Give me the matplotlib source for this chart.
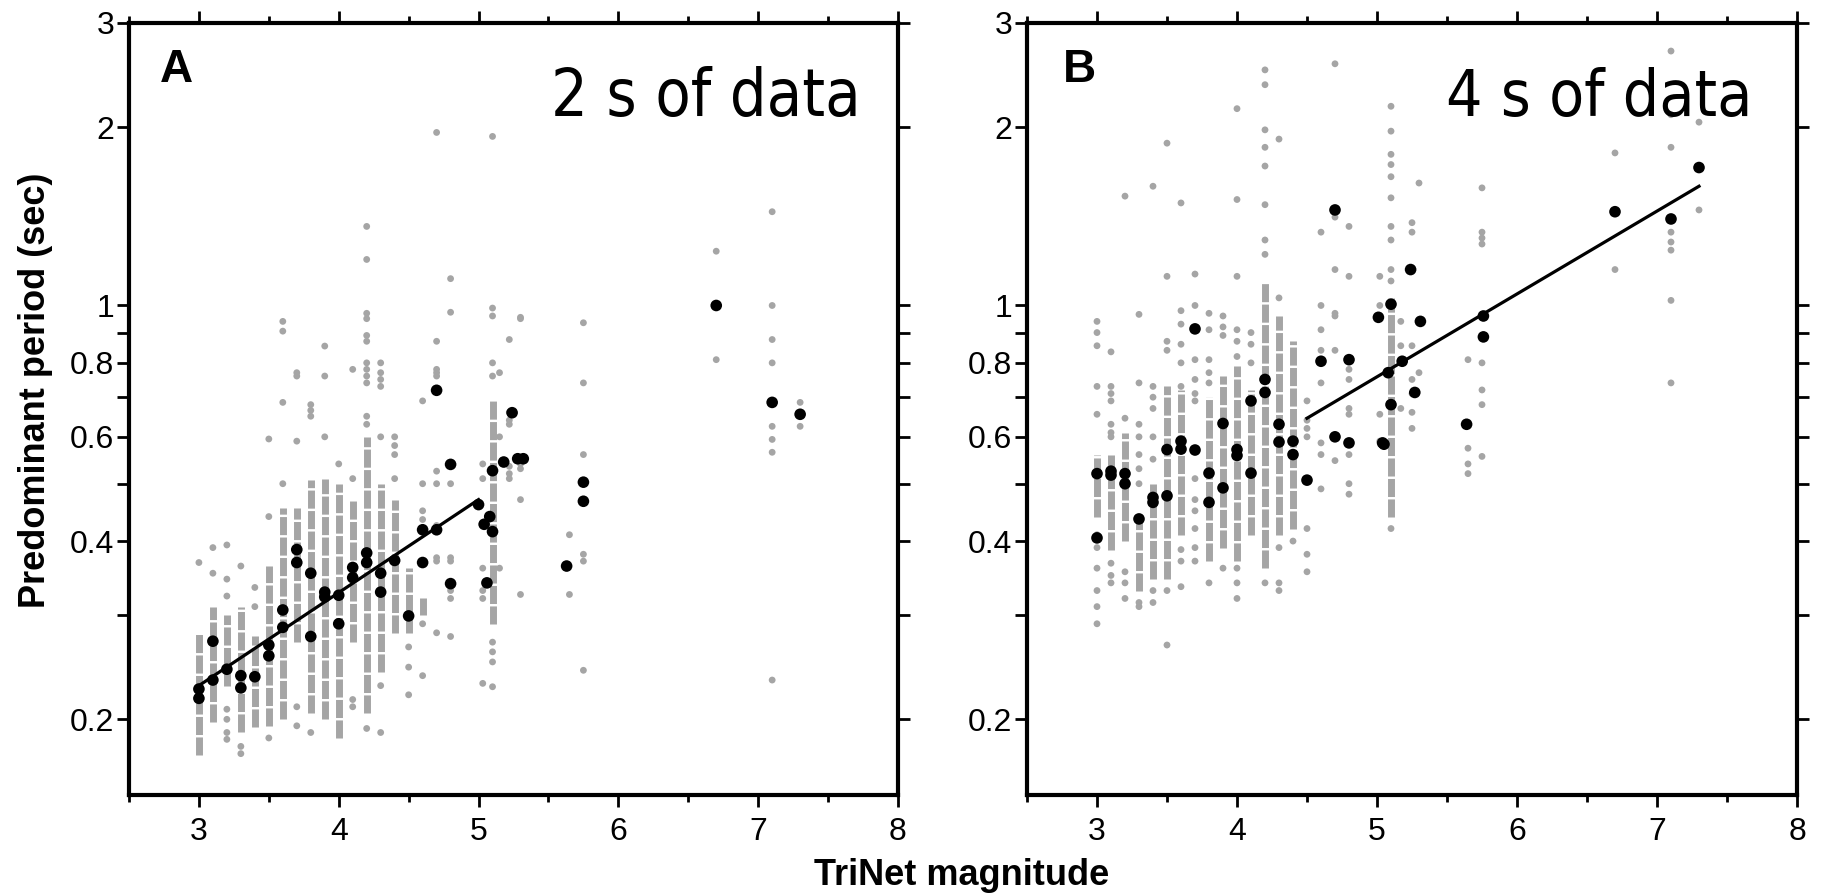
import matplotlib
matplotlib.use("Agg")
import matplotlib.pyplot as plt
from matplotlib import font_manager
from matplotlib.font_manager import FontProperties
from matplotlib.ticker import FixedLocator, NullLocator

# ---- panel A: 2 s of data ----
# gray single-station measurements, grouped by magnitude column
a_cols = [3.0, 3.1, 3.2, 3.3, 3.4, 3.5, 3.6, 3.7, 3.8, 3.9, 4.0, 4.1, 4.2, 4.3, 4.4,
          4.5, 4.6, 4.7, 4.8, 5.03, 5.1, 5.15, 5.22, 5.3, 5.65, 5.75, 6.7, 7.1, 7.3]
a_pts = [
    [0.368],
    [0.39, 0.353],
    [0.394, 0.345, 0.323, 0.208, 0.20, 0.19, 0.185],
    [0.363, 0.18, 0.175],
    [0.334, 0.31],
    [0.595, 0.44, 0.186],
    [0.94, 0.905, 0.686, 0.50],
    [0.77, 0.76, 0.59, 0.21, 0.195],
    [0.68, 0.665, 0.65, 0.19],
    [0.854, 0.76, 0.60],
    [0.54],
    [0.78, 0.51, 0.216, 0.21],
    [1.36, 1.196, 0.97, 0.95, 0.89, 0.87, 0.80, 0.78, 0.76, 0.74, 0.65, 0.63, 0.193],
    [0.80, 0.77, 0.75, 0.73, 0.60, 0.228, 0.19],
    [0.60, 0.58, 0.56, 0.51],
    [0.265, 0.245, 0.22],
    [0.69, 0.50, 0.45, 0.435, 0.42, 0.29, 0.237],
    [1.96, 0.87, 0.78, 0.77, 0.76, 0.525, 0.50, 0.425, 0.375, 0.37, 0.28],
    [1.11, 0.974, 0.50, 0.375, 0.37, 0.33, 0.32, 0.276],
    [0.54, 0.51, 0.36, 0.33, 0.32, 0.23],
    [1.93, 0.99, 0.96, 0.80, 0.76, 0.27, 0.26, 0.25, 0.227],
    [0.77, 0.60, 0.36],
    [0.876, 0.66, 0.64, 0.63, 0.535, 0.52, 0.51],
    [0.955, 0.95, 0.54, 0.53, 0.47, 0.325],
    [0.41, 0.325],
    [0.935, 0.74, 0.56, 0.38, 0.37, 0.242],
    [1.235, 0.81],
    [1.44, 1.0, 0.876, 0.80, 0.625, 0.594, 0.565, 0.233],
    [0.686, 0.625],
]
# stretches where the gray dots overlap into a near-solid bar
a_run_mag = [3.0, 3.1, 3.2, 3.3, 3.4, 3.5, 3.6, 3.7, 3.8, 3.9, 4.0, 4.1, 4.2, 4.3,
             4.4, 4.5, 4.6, 5.1]
a_run_lo = [0.174, 0.198, 0.228, 0.19, 0.194, 0.195, 0.20, 0.27, 0.205, 0.20, 0.186,
            0.27, 0.205, 0.24, 0.28, 0.28, 0.30, 0.29]
a_run_hi = [0.28, 0.31, 0.30, 0.31, 0.277, 0.363, 0.455, 0.455, 0.508, 0.51, 0.50,
            0.47, 0.60, 0.50, 0.47, 0.36, 0.32, 0.69]
# black: event averages
a_mean_mag = [3.0, 3.0, 3.1, 3.1, 3.2, 3.3, 3.3, 3.4, 3.5, 3.5,
              3.6, 3.6, 3.7, 3.7, 3.8, 3.8, 3.9, 3.9, 4.0, 4.0,
              4.1, 4.1, 4.2, 4.2, 4.3, 4.3, 4.4, 4.5, 4.6, 4.6,
              4.7, 4.7, 4.8, 4.8, 5.0, 5.04, 5.08, 5.1, 5.1, 5.06,
              5.18, 5.24, 5.28, 5.32, 5.63, 5.75, 5.75, 6.7, 7.1, 7.3]
a_mean_per = [0.217, 0.225, 0.271, 0.233, 0.243, 0.237, 0.226, 0.236, 0.267, 0.256,
              0.306, 0.286, 0.387, 0.368, 0.353, 0.276, 0.328, 0.322, 0.324, 0.290,
              0.361, 0.347, 0.382, 0.368, 0.353, 0.328, 0.371, 0.299, 0.418, 0.368,
              0.418, 0.719, 0.539, 0.339, 0.461, 0.427, 0.44, 0.415, 0.526, 0.34,
              0.544, 0.659, 0.551, 0.551, 0.363, 0.503, 0.467, 1.0, 0.686, 0.655]
a_fit_mag = [3.0, 5.0]
a_fit_per = [0.228, 0.47]

# ---- panel B: 4 s of data ----
b_cols = [3.0, 3.1, 3.2, 3.3, 3.4, 3.5, 3.6, 3.7, 3.8, 3.9, 4.0, 4.1, 4.2, 4.3, 4.4,
          4.5, 4.6, 4.7, 4.8, 5.02, 5.1, 5.17, 5.25, 5.3, 5.65, 5.75, 6.7, 7.1, 7.3]
b_pts = [
    [0.94, 0.90, 0.855, 0.73, 0.655, 0.41, 0.39, 0.36, 0.33, 0.31, 0.29],
    [0.835, 0.73, 0.71, 0.69, 0.63, 0.61, 0.60, 0.367, 0.35, 0.34],
    [1.53, 0.645, 0.355, 0.34, 0.32],
    [0.966, 0.74, 0.63, 0.60, 0.56, 0.53, 0.50, 0.315, 0.31],
    [1.59, 0.73, 0.70, 0.67, 0.60, 0.55, 0.33, 0.315],
    [1.88, 1.12, 0.87, 0.84, 0.33, 0.267],
    [1.49, 0.98, 0.93, 0.86, 0.80, 0.73, 0.387, 0.37, 0.335],
    [1.13, 1.0, 0.81, 0.75, 0.71, 0.69, 0.51, 0.47, 0.45, 0.42, 0.39, 0.37],
    [0.97, 0.91, 0.81, 0.77, 0.74, 0.34],
    [0.96, 0.92, 0.89, 0.36],
    [2.15, 1.51, 1.12, 0.91, 0.87, 0.82, 0.36, 0.34, 0.32],
    [0.90, 0.86, 0.80],
    [2.50, 2.36, 1.98, 1.85, 1.72, 1.48, 1.29, 1.22, 0.34],
    [1.91, 1.03, 0.39, 0.34, 0.33],
    [0.40],
    [0.69, 0.64, 0.62, 0.60, 0.42, 0.38, 0.355],
    [1.33, 1.0, 0.91, 0.84, 0.74, 0.586, 0.56, 0.49],
    [2.56, 1.41, 1.15, 0.97, 0.96, 0.84, 0.547],
    [1.36, 1.12, 0.78, 0.75, 0.67, 0.655, 0.56, 0.50, 0.48],
    [1.12, 1.0, 0.655, 0.59],
    [2.17, 1.97, 1.80, 1.73, 1.65, 1.52, 1.36, 1.29, 1.15, 1.10, 0.42],
    [0.94, 0.855, 0.67],
    [1.38, 1.33, 0.855, 0.75, 0.71, 0.66, 0.62],
    [1.61, 0.77],
    [0.81, 0.574, 0.54, 0.52],
    [1.58, 1.33, 1.30, 1.27, 0.80, 0.72, 0.68, 0.556],
    [1.81, 1.15],
    [2.69, 2.1, 1.85, 1.33, 1.28, 1.24, 1.02, 0.74],
    [2.04, 1.45],
]
b_run_mag = [3.0, 3.1, 3.2, 3.3, 3.4, 3.5, 3.6, 3.8, 3.9, 4.0, 4.1, 4.2, 4.3, 4.4, 5.1]
b_run_lo = [0.44, 0.387, 0.40, 0.33, 0.345, 0.345, 0.41, 0.37, 0.39, 0.37, 0.41,
            0.36, 0.41, 0.42, 0.44]
b_run_hi = [0.56, 0.56, 0.61, 0.44, 0.50, 0.73, 0.72, 0.70, 0.76, 0.79, 0.72,
            1.09, 0.96, 0.87, 1.03]
b_mean_mag = [3.0, 3.0, 3.1, 3.1, 3.2, 3.2, 3.3, 3.4, 3.4, 3.5,
              3.5, 3.6, 3.6, 3.7, 3.7, 3.8, 3.8, 3.9, 3.9, 4.0,
              4.0, 4.1, 4.1, 4.2, 4.2, 4.3, 4.3, 4.4, 4.4, 4.5,
              4.6, 4.7, 4.7, 4.8, 4.8, 5.01, 5.04, 5.05, 5.08, 5.1,
              5.1, 5.18, 5.24, 5.31, 5.27, 5.64, 5.76, 5.76, 6.7, 7.1, 7.3]
b_mean_per = [0.52, 0.405, 0.525, 0.517, 0.52, 0.50, 0.436, 0.474, 0.465, 0.571,
              0.477, 0.59, 0.572, 0.913, 0.57, 0.521, 0.465, 0.632, 0.492, 0.571,
              0.558, 0.69, 0.521, 0.75, 0.713, 0.63, 0.588, 0.59, 0.56, 0.507,
              0.805, 1.45, 0.60, 0.81, 0.586, 0.955, 0.586, 0.583, 0.77, 1.005,
              0.68, 0.805, 1.15, 0.94, 0.713, 0.63, 0.96, 0.885, 1.44, 1.40, 1.71]
b_fit_mag = [4.5, 7.3]
b_fit_per = [0.645, 1.59]

y_ticks = [0.2, 0.3, 0.4, 0.5, 0.6, 0.7, 0.8, 0.9, 1, 2, 3]
y_labels = ["0.2", "", "0.4", "", "0.6", "", "0.8", "", "1", "2", "3"]
x_ticks = [3, 4, 5, 6, 7, 8]
x_minor = [2.5, 3.5, 4.5, 5.5, 6.5, 7.5]

GRAY = "#a5a5a5"


def pick_font(names):
    for name in names:
        try:
            font_manager.findfont(name, fallback_to_default=False)
            return name
        except ValueError:
            continue
    return "DejaVu Sans"


def condensed_font_file():
    # the captions use a condensed grotesque; take one if the system has it
    files = [f.fname for f in font_manager.fontManager.ttflist
             if f.style == "normal" and f.weight in (400, "normal", "regular")]
    for key in ("SansNarrow-Regular", "Sans-Condensed.", "SansCondensed.",
                "Condensed-Regular", "Sans-SemiCondensed.", "Sans-ExtraCondensed."):
        for path in files:
            if key in path.replace("\\", "/").split("/")[-1]:
                return path
    return None


SANS = pick_font(["Liberation Sans", "Arial", "DejaVu Sans"])
cond_path = condensed_font_file()


def caption_props(fig, text, target_px):
    if cond_path:
        fp = FontProperties(fname=cond_path, size=50)
    else:
        fp = FontProperties(family=SANS, size=50)
    probe = fig.text(0, 0, text, fontproperties=fp)
    width = probe.get_window_extent(renderer=fig.canvas.get_renderer()).width
    probe.remove()
    fp.set_size(min(60, 50 * target_px / width))
    return fp


def draw_panel(ax, cols, pts, run_mag, run_lo, run_hi, mean_mag, mean_per,
               fit_mag, fit_per, letter, caption, letter_x, caption_x, caption_fp):
    ax.vlines(run_mag, run_lo, run_hi, colors=GRAY, linewidth=5.0,
              linestyles=[(0, (2.6, 0.35))], zorder=1)
    for m, vals in zip(cols, pts, strict=True):
        ax.scatter([m] * len(vals), vals, s=24, color=GRAY, edgecolors="none", zorder=2)
    ax.plot(fit_mag, fit_per, color="black", linewidth=2.3, zorder=3)
    ax.scatter(mean_mag, mean_per, s=70, color="black", edgecolors="none", zorder=4)

    ax.set_yscale("log")
    ax.set_xlim(2.5, 8)
    ax.set_ylim(0.149, 3)
    ax.yaxis.set_major_locator(FixedLocator(y_ticks))
    ax.yaxis.set_minor_locator(NullLocator())
    ax.set_yticklabels(y_labels)
    ax.set_xticks(x_ticks)
    ax.set_xticklabels([str(t) for t in x_ticks])
    ax.xaxis.set_minor_locator(FixedLocator(x_minor))

    ax.tick_params(which="both", direction="out", top=True, right=True,
                   labeltop=False, labelright=False, width=2.0)
    ax.tick_params(axis="x", which="major", length=8.5, pad=7, labelsize=23)
    ax.tick_params(axis="x", which="minor", length=5)
    ax.tick_params(axis="y", which="major", length=8.5, pad=2, labelsize=23)
    for lab in ax.get_xticklabels() + ax.get_yticklabels():
        lab.set_fontfamily(SANS)
    for sp in ax.spines.values():
        sp.set_linewidth(3)

    ax.text(letter_x, 0.968, letter, transform=ax.transAxes, ha="left", va="top",
            fontsize=33, fontweight="bold", family=SANS)
    ax.text(caption_x, 0.8795, caption, transform=ax.transAxes, ha="right",
            va="baseline", fontproperties=caption_fp)


fig = plt.figure(figsize=(18.23, 8.94), dpi=100)
ax_a = fig.add_axes([129 / 1823, 99 / 894, 769 / 1823, 772 / 894])
ax_b = fig.add_axes([1027 / 1823, 99 / 894, 770 / 1823, 772 / 894])

fp_a = caption_props(fig, "2 s of data", 310)
fp_b = caption_props(fig, "4 s of data", 307)

draw_panel(ax_a, a_cols, a_pts, a_run_mag, a_run_lo, a_run_hi, a_mean_mag, a_mean_per,
           a_fit_mag, a_fit_per, "A", "2 s of data", 0.040, 0.951, fp_a)
draw_panel(ax_b, b_cols, b_pts, b_run_mag, b_run_lo, b_run_hi, b_mean_mag, b_mean_per,
           b_fit_mag, b_fit_per, "B", "4 s of data", 0.047, 0.942, fp_b)

fig.text(962 / 1823, 9 / 894, "TriNet magnitude", ha="center", va="baseline",
         fontsize=26, fontweight="bold", family=SANS)
fig.text(36 / 1823, 1 - 390 / 894, "Predominant period (sec)", rotation=90,
         ha="center", va="center", fontsize=26, fontweight="bold", family=SANS)

fig.savefig("out.png", dpi=100)
